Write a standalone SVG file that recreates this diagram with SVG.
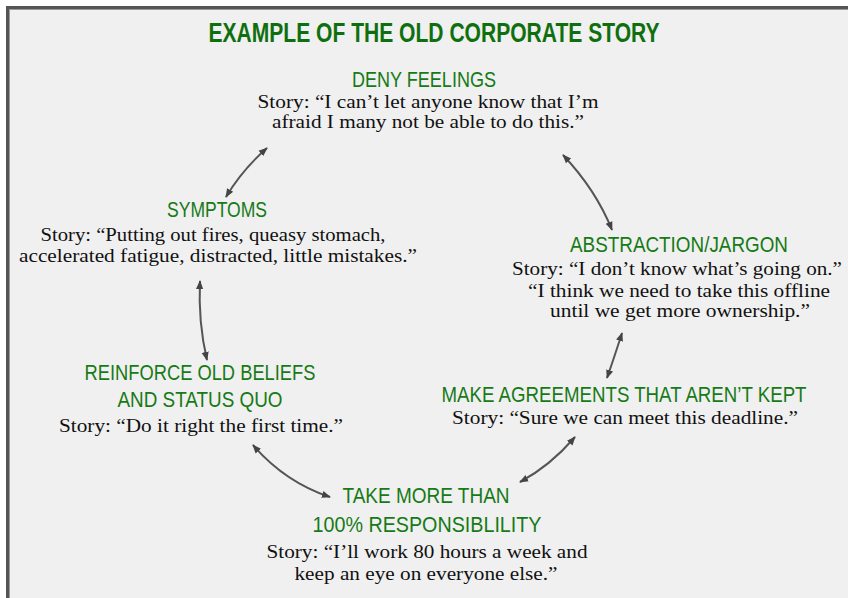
<svg xmlns="http://www.w3.org/2000/svg" width="848" height="598" viewBox="0 0 848 598">
<style>
.title{font-family:"Liberation Sans",Arial,sans-serif;font-weight:bold;font-size:27px;fill:#0f6f0f;text-anchor:middle}
.head{font-family:"Liberation Sans",Arial,sans-serif;font-size:22px;fill:#167a16;text-anchor:middle}
.story{font-family:"Liberation Serif","Times New Roman",serif;font-size:18px;fill:#111;text-anchor:middle}
.conn{fill:none;stroke:#555;stroke-width:2;marker-start:url(#ah);marker-end:url(#ah)}
</style>
<defs>
<marker id="ah" viewBox="0 0 10 10" refX="9" refY="5" markerWidth="9" markerHeight="9" markerUnits="userSpaceOnUse" orient="auto-start-reverse">
<path d="M0,1 L10,5 L0,9 z" fill="#444"/>
</marker>
</defs>
<rect x="0" y="0" width="848" height="598" fill="#ffffff"/>
<rect x="6" y="6" width="842" height="592" fill="#f0f0f0"/>
<rect x="6" y="6" width="842" height="3" fill="#555"/>
<rect x="6" y="6" width="3" height="592" fill="#555"/>
<rect x="9" y="9" width="839" height="1" fill="#999"/>
<rect x="9" y="9" width="1" height="589" fill="#999"/>
<text class="title" x="434" y="42" textLength="451" lengthAdjust="spacingAndGlyphs">EXAMPLE OF THE OLD CORPORATE STORY</text>
<g id="connectors">
<path class="conn" d="M267,148 Q242,170 226,197"/>
<path class="conn" d="M563,155 Q596,190 612,230"/>
<path class="conn" d="M200,281 Q198,322 207,360"/>
<path class="conn" d="M622,333 Q614,358 607,378"/>
<path class="conn" d="M575,437 Q550,466 520,482"/>
<path class="conn" d="M253,445 Q285,482 330,497"/>
</g>
<g id="deny">
<text class="head" x="424" y="87" textLength="144" lengthAdjust="spacingAndGlyphs">DENY FEELINGS</text>
<text class="story" x="428" y="108" textLength="341" lengthAdjust="spacingAndGlyphs">Story: “I can’t let anyone know that I’m</text>
<text class="story" x="428" y="128" textLength="312" lengthAdjust="spacingAndGlyphs">afraid I many not be able to do this.”</text>
</g>
<g id="symptoms">
<text class="head" x="217" y="217" textLength="100" lengthAdjust="spacingAndGlyphs">SYMPTOMS</text>
<text class="story" x="213" y="241" textLength="345" lengthAdjust="spacingAndGlyphs">Story: “Putting out fires, queasy stomach,</text>
<text class="story" x="218" y="262" textLength="398" lengthAdjust="spacingAndGlyphs">accelerated fatigue, distracted, little mistakes.”</text>
</g>
<g id="abstraction">
<text class="head" x="679" y="252" textLength="218" lengthAdjust="spacingAndGlyphs">ABSTRACTION/JARGON</text>
<text class="story" x="677" y="275" textLength="330" lengthAdjust="spacingAndGlyphs">Story: “I don’t know what’s going on.”</text>
<text class="story" x="679" y="297" textLength="302" lengthAdjust="spacingAndGlyphs">“I think we need to take this offline</text>
<text class="story" x="680" y="317" textLength="260" lengthAdjust="spacingAndGlyphs">until we get more ownership.”</text>
</g>
<g id="reinforce">
<text class="head" x="200" y="380" textLength="231" lengthAdjust="spacingAndGlyphs">REINFORCE OLD BELIEFS</text>
<text class="head" x="200" y="407" textLength="165" lengthAdjust="spacingAndGlyphs">AND STATUS QUO</text>
<text class="story" x="201" y="432" textLength="284" lengthAdjust="spacingAndGlyphs">Story: “Do it right the first time.”</text>
</g>
<g id="agreements">
<text class="head" x="624" y="402" textLength="365" lengthAdjust="spacingAndGlyphs">MAKE AGREEMENTS THAT AREN’T KEPT</text>
<text class="story" x="625" y="424" textLength="346" lengthAdjust="spacingAndGlyphs">Story: “Sure we can meet this deadline.”</text>
</g>
<g id="responsibility">
<text class="head" x="426" y="503" textLength="167" lengthAdjust="spacingAndGlyphs">TAKE MORE THAN</text>
<text class="head" x="427" y="532" textLength="229" lengthAdjust="spacingAndGlyphs">100% RESPONSIBLILITY</text>
<text class="story" x="427" y="558" textLength="321" lengthAdjust="spacingAndGlyphs">Story: “I’ll work 80 hours a week and</text>
<text class="story" x="426" y="580" textLength="263" lengthAdjust="spacingAndGlyphs">keep an eye on everyone else.”</text>
</g>
</svg>
